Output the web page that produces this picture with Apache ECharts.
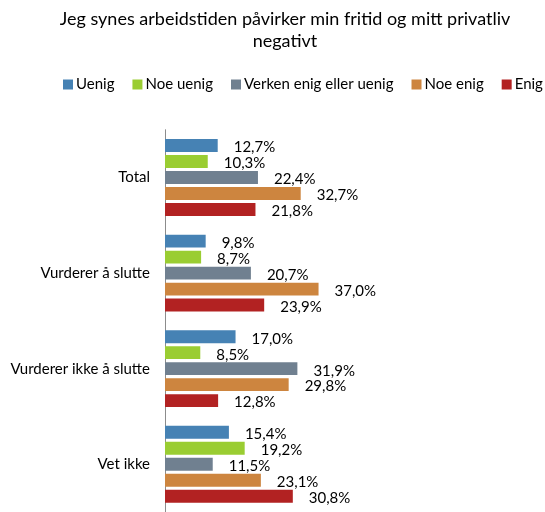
<!DOCTYPE html>
<html>
<head>
<meta charset="utf-8">
<script src="https://cdn.jsdelivr.net/npm/echarts@6/dist/echarts.min.js"></script>
<style>
  html, body { margin: 0; padding: 0; background: #fff; }
  #chart { width: 545px; height: 512px; }
</style>
</head>
<body>
<div id="chart"></div>
<script>
// Survey groups (top to bottom)
const categories = ['Total', 'Vurderer å slutte', 'Vurderer ikke å slutte', 'Vet ikke'];

// Answer shares in percent, one array per answer option
const seriesNames = ['Uenig', 'Noe uenig', 'Verken enig eller uenig', 'Noe enig', 'Enig'];
const uenig      = [12.7, 9.8, 17.0, 15.4];
const noeUenig   = [10.3, 8.7, 8.5, 19.2];
const verken     = [22.4, 20.7, 31.9, 11.5];
const noeEnig    = [32.7, 37.0, 29.8, 23.1];
const enig       = [21.8, 23.9, 12.8, 30.8];
const seriesData = [uenig, noeUenig, verken, noeEnig, enig];
const colors = ['#4682B4', '#9ACD32', '#708090', '#CD853F', '#B22222'];

const FONT = 'Lato, "Open Sans", sans-serif';

const chart = echarts.init(document.getElementById('chart'), null, { renderer: 'canvas' });

const series = seriesNames.map((name, i) => ({
  name: name,
  type: 'bar',
  data: seriesData[i],
  barGap: '24%',
  barCategoryGap: '19.6%',
  itemStyle: { color: colors[i] },
  label: {
    show: true,
    position: 'right',
    distance: 16,
    offset: [0, 2],
    color: '#000',
    fontFamily: FONT,
    fontSize: 15,
    formatter: p => p.value.toFixed(1).replace('.', ',') + '%'
  }
}));

chart.setOption({
  animation: false,
  title: {
    text: 'Jeg synes arbeidstiden påvirker min fritid og mitt privatliv\nnegativt',
    left: 280,
    textAlign: 'center',
    top: 3,
    textStyle: {
      fontFamily: FONT,
      fontSize: 18,
      fontWeight: 'normal',
      color: '#000',
      lineHeight: 22
    }
  },
  legend: {
    data: seriesNames,
    top: 77,
    left: 63,
    width: 490,
    padding: 0,
    itemWidth: 10,
    itemHeight: 10,
    itemGap: 18,
    icon: 'rect',
    textStyle: { fontFamily: FONT, fontSize: 15, color: '#000', padding: [0, 0, 0, -2] }
  },
  grid: {
    left: 165,
    top: 129.75,
    width: 166,
    bottom: -3.75,
    containLabel: false
  },
  xAxis: {
    type: 'value',
    min: 0,
    max: 40,
    show: false
  },
  yAxis: {
    type: 'category',
    data: categories,
    inverse: true,
    axisLine: { show: true, lineStyle: { color: '#8c8c8c', width: 1 } },
    axisTick: { show: false },
    axisLabel: {
      fontFamily: FONT,
      fontSize: 15,
      color: '#000',
      margin: 15
    }
  },
  series: series
});
</script>
</body>
</html>
